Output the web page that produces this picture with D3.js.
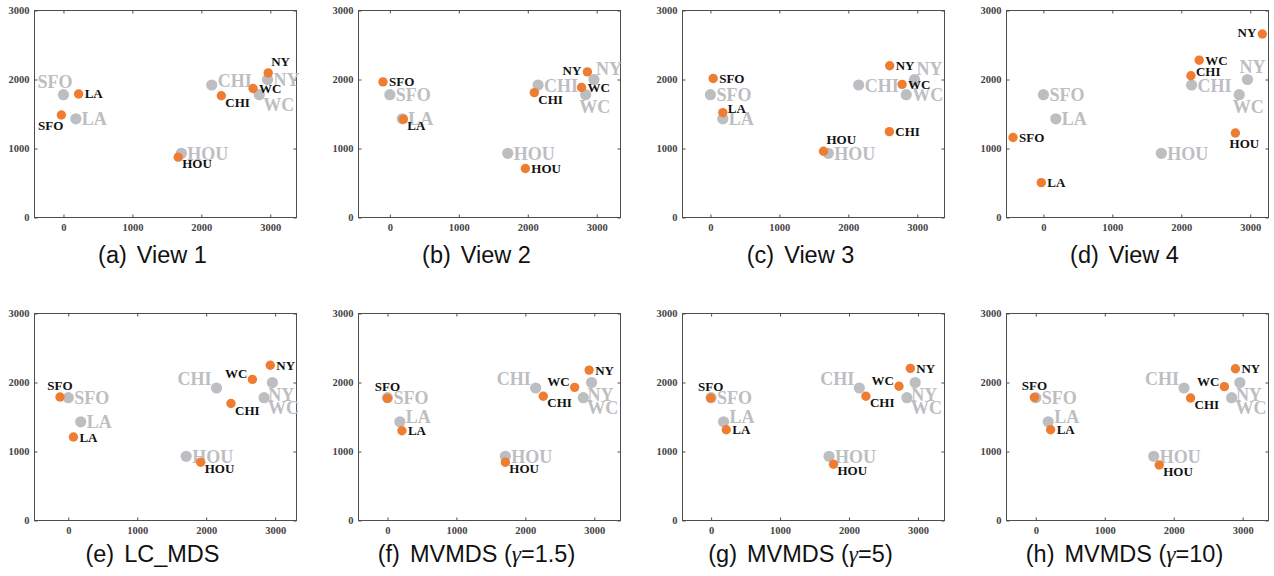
<!DOCTYPE html>
<html>
<head>
<meta charset="utf-8">
<script src="https://cdn.jsdelivr.net/npm/d3@7"></script>
<style>
  body { margin: 0; background: #fff; }
  svg { display: block; }
</style>
</head>
<body>
<script>
// city order shared by every array below
var cities = ["SFO", "LA", "CHI", "NY", "WC", "HOU"];
// ground truth (grey)
var trueX = [0, 180, 2150, 2960, 2840, 1710];
var trueY = [1780, 1430, 1920, 2000, 1780, 930];
// embeddings (orange), one pair per panel
var view1X = [-30, 220, 2290, 2970, 2750, 1665];
var view1Y = [1485, 1790, 1765, 2095, 1870, 875];
var view2X = [-100, 195, 2095, 2865, 2780, 1965];
var view2Y = [1965, 1425, 1810, 2110, 1885, 710];
var view3X = [40, 180, 2595, 2600, 2780, 1640];
var view3Y = [2015, 1520, 1245, 2200, 1930, 960];
var view4X = [-440, -30, 2140, 3175, 2260, 2785];
var view4Y = [1160, 505, 2055, 2660, 2280, 1225];
var lcmdsX = [-120, 75, 2360, 2930, 2670, 1920];
var lcmdsY = [1790, 1210, 1695, 2250, 2045, 845];
var mv15X = [0, 210, 2260, 2925, 2715, 1710];
var mv15Y = [1770, 1300, 1800, 2180, 1930, 845];
var mv5X = [-5, 220, 2245, 2890, 2725, 1775];
var mv5Y = [1775, 1315, 1800, 2205, 1945, 815];
var mv10X = [-20, 215, 2245, 2895, 2735, 1790];
var mv10Y = [1785, 1315, 1775, 2200, 1940, 805];

var captionTags = ["(a)", "(b)", "(c)", "(d)", "(e)", "(f)", "(g)", "(h)"];
var captionTexts = ["View 1", "View 2", "View 3", "View 4", "LC_MDS",
    "MVMDS (γ=1.5)", "MVMDS (γ=5)", "MVMDS (γ=10)"];
var xMins = [-420, -455, -405, -535, -490, -420, -415, -425];
var tickValues = [0, 1000, 2000, 3000];

var panelX = [view1X, view2X, view3X, view4X, lcmdsX, mv15X, mv5X, mv10X];
var panelY = [view1Y, view2Y, view3Y, view4Y, lcmdsY, mv15Y, mv5Y, mv10Y];

//label placement per city (layout only)
var greyPlace = [
    ["al", "r", "ur", "r", "br", "r"],
    ["r", "r", "r", "ar", "b", "r"],
    ["r", "r", "r", "ar", "r", "r"],
    ["r", "r", "r", "a", "b", "r"],
    ["r", "r", "ul", "b", "br", "r"],
    ["r", "ur", "ul", "b", "br", "r"],
    ["r", "ur", "ul", "b", "br", "r"],
    ["r", "ur", "ul", "b", "br", "r"]
];
var orangePlace = [
    ["bl", "r", "br", "ar", "r", "br"],
    ["r", "br", "br", "l", "r", "r"],
    ["r", "ur", "r", "r", "r", "ar"],
    ["r", "r", "ur", "l", "r", "b"],
    ["a", "r", "br", "r", "ul", "br"],
    ["a", "r", "br", "r", "ul", "br"],
    ["a", "r", "br", "r", "ul", "br"],
    ["a", "r", "br", "r", "ul", "br"]
];
//[anchor, dx, dy]
var greyOff = {
    r: ["start", 6, 6.5], ur: ["start", 6, 1.5], ar: ["start", 2, -5],
    al: ["end", 9, -7], ul: ["end", -5, -3], b: ["middle", 9, 18],
    br: ["start", 4, 16], a: ["middle", 5, -7]
};
var orangeOff = {
    r: ["start", 6, 4.5], ur: ["start", 5, 0], ar: ["start", 3, -7],
    l: ["end", -6, 3], ul: ["end", -5, -1], br: ["start", 4, 11],
    bl: ["end", 2, 15], b: ["middle", 9, 15], a: ["middle", 0, -7]
};

var W = 1274, H = 576;
var GREY = "#bdbec2", ORANGE = "#ee7d32", AXIS = "#4d4d4d";

var svg = d3.select("body").append("svg")
    .attr("width", W)
    .attr("height", H);

function styleTicks(sel) {
    sel.select(".domain").remove();
    sel.selectAll(".tick line").attr("stroke", AXIS);
    sel.selectAll(".tick text")
        .attr("fill", "#444")
        .style("font-family", "'Liberation Serif', serif")
        .style("font-weight", "bold")
        .style("font-size", "10.5px");
}

panelX.forEach(function(px, i) {
    var py = panelY[i];
    var col = i % 4, row = Math.floor(i / 4);
    var left = 34.5 + 324 * col;
    var top = row ? 313.5 : 10.5;
    var w = 262, h = 207;
    var x = d3.scaleLinear().domain([xMins[i], xMins[i] + 3800]).range([left, left + w]);
    var y = d3.scaleLinear().domain([0, 3000]).range([top + h, top]);
    var g = svg.append("g");
    var fmt = d3.format("d");

    g.append("g")
        .attr("transform", "translate(0," + (top + h) + ")")
        .call(d3.axisBottom(x).tickValues(tickValues).tickFormat(fmt)
            .tickSizeInner(-3).tickSizeOuter(0).tickPadding(6))
        .call(styleTicks);
    g.append("g")
        .attr("transform", "translate(" + left + ",0)")
        .call(d3.axisLeft(y).tickValues(tickValues).tickFormat(fmt)
            .tickSizeInner(-3).tickSizeOuter(0).tickPadding(5))
        .call(styleTicks);
    g.append("g")
        .attr("transform", "translate(0," + top + ")")
        .call(d3.axisTop(x).tickValues(tickValues).tickSizeInner(-3).tickSizeOuter(0).tickFormat(""))
        .call(styleTicks);
    g.append("g")
        .attr("transform", "translate(" + (left + w) + ",0)")
        .call(d3.axisRight(y).tickValues(tickValues).tickSizeInner(-3).tickSizeOuter(0).tickFormat(""))
        .call(styleTicks);
    g.append("rect")
        .attr("x", left).attr("y", top)
        .attr("width", w).attr("height", h)
        .attr("fill", "none")
        .attr("stroke", AXIS)
        .attr("stroke-width", 1);

    var idx = d3.range(cities.length);
    //grey truth points and labels
    g.selectAll(".truth").data(idx).enter()
      .append("circle")
        .attr("class", "truth")
        .attr("cx", k => x(trueX[k]))
        .attr("cy", k => y(trueY[k]))
        .attr("r", 5.6)
        .attr("fill", GREY);
    g.selectAll(".truth-label").data(idx).enter()
      .append("text")
        .attr("class", "truth-label")
        .attr("x", k => x(trueX[k]) + greyOff[greyPlace[i][k]][1])
        .attr("y", k => y(trueY[k]) + greyOff[greyPlace[i][k]][2])
        .attr("text-anchor", k => greyOff[greyPlace[i][k]][0])
        .attr("fill", GREY)
        .style("font-family", "'Liberation Serif', serif")
        .style("font-weight", "bold")
        .style("font-size", "18px")
        .text(k => cities[k]);
    //orange embedding points and labels
    g.selectAll(".embed").data(idx).enter()
      .append("circle")
        .attr("class", "embed")
        .attr("cx", k => x(px[k]))
        .attr("cy", k => y(py[k]))
        .attr("r", 4.7)
        .attr("fill", ORANGE);
    g.selectAll(".embed-label").data(idx).enter()
      .append("text")
        .attr("class", "embed-label")
        .attr("x", k => x(px[k]) + orangeOff[orangePlace[i][k]][1])
        .attr("y", k => y(py[k]) + orangeOff[orangePlace[i][k]][2])
        .attr("text-anchor", k => orangeOff[orangePlace[i][k]][0])
        .attr("fill", "#111")
        .style("font-family", "'Liberation Serif', serif")
        .style("font-weight", "bold")
        .style("font-size", "13px")
        .text(k => cities[k]);

    //caption
    var cap = g.append("text")
        .attr("x", left + 118)
        .attr("y", row ? 562 : 263)
        .attr("text-anchor", "middle")
        .attr("fill", "#111")
        .style("font-family", "'Liberation Sans', Arial, sans-serif")
        .style("font-size", "23.5px");
    cap.append("tspan").text(captionTags[i]);
    var parts = captionTexts[i].split("γ");
    cap.append("tspan").attr("dx", 10).text(parts[0]);
    if(parts.length > 1) {
        cap.append("tspan")
            .style("font-family", "'Liberation Serif', serif")
            .style("font-style", "italic")
            .text("γ");
        cap.append("tspan").text(parts[1]);
    }
});
</script>
</body>
</html>
